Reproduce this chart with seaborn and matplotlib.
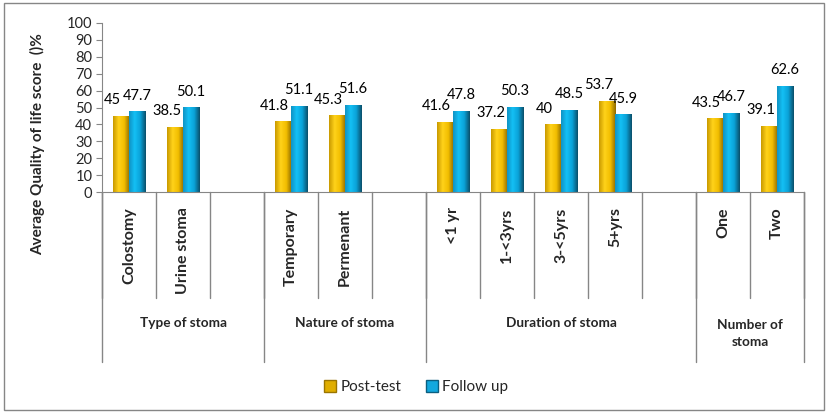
import numpy as np
import pandas as pd
import seaborn as sns
import matplotlib.pyplot as plt
from matplotlib.patches import Rectangle
from matplotlib.colors import LinearSegmentedColormap

# data
subgroups = ["Colostomy", "Urine stoma", "Temporary", "Permenant",
             "<1 yr", "1-<3yrs", "3-<5yrs", "5+yrs", "One", "Two"]
post_test = [45, 38.5, 41.8, 45.3, 41.6, 37.2, 40, 53.7, 43.5, 39.1]
follow_up = [47.7, 50.1, 51.1, 51.6, 47.8, 50.3, 48.5, 45.9, 46.7, 62.6]
groups = ["Type of stoma", "Nature of stoma", "Duration of stoma", "Number of\nstoma"]
# slot order on the axis, empty slots between groups
order = ["Colostomy", "Urine stoma", "gap1", "Temporary", "Permenant", "gap2",
         "<1 yr", "1-<3yrs", "3-<5yrs", "5+yrs", "gap3", "One", "Two"]
series = ["Post-test", "Follow up"]

df = pd.DataFrame({
    "sub": subgroups * 2,
    "value": post_test + follow_up,
    "series": [series[0]] * len(subgroups) + [series[1]] * len(subgroups),
})

sns.set_style("white")
plt.rcParams["font.family"] = ["Lato", "DejaVu Sans"]

gold = "#E0AE00"
blue = "#12A8DE"

fig = plt.figure(figsize=(8.27, 4.16), dpi=100)
ax = fig.add_axes([102 / 827, 1 - 192 / 416, (804 - 102) / 827, (192 - 23) / 416])

sns.barplot(data=df, x="sub", y="value", hue="series", order=order,
            hue_order=series, palette=[gold, blue], width=0.6, dodge=True,
            saturation=1, legend=False, ax=ax, errorbar=None)

# gradient fill like the excel bevel bars
cmaps = {
    0: LinearSegmentedColormap.from_list("g", ["#C99A00", "#FFD21A", "#F2BE00", "#8E6A00"]),
    1: LinearSegmentedColormap.from_list("b", ["#0F93C4", "#14C0F5", "#0AA2D8", "#0B4F6A"]),
}
grad = np.linspace(0, 1, 64).reshape(1, -1)
for i, cont in enumerate(ax.containers):
    for bar in cont:
        h = bar.get_height()
        if not np.isfinite(h):
            continue
        x0 = bar.get_x()
        w = bar.get_width()
        im = ax.imshow(grad, cmap=cmaps[i], aspect="auto",
                       extent=[x0, x0 + w, 0, h], zorder=bar.get_zorder() + 0.1)
        im.set_clip_path(bar)

ax.set_xlim(-0.5, len(order) - 0.5)
ax.set_ylim(0, 100)

# value labels
for i, cont in enumerate(ax.containers):
    dx = -6 if i == 0 else 0
    for bar in cont:
        h = bar.get_height()
        if not np.isfinite(h):
            continue
        ax.annotate(f"{h:g}", (bar.get_x() + bar.get_width() / 2, h),
                    xytext=(dx, 8.5), textcoords="offset points",
                    ha="center", va="baseline", fontsize=10.5, color="black")

# axes styling
for s in ["top", "right"]:
    ax.spines[s].set_visible(False)
for s in ["left", "bottom"]:
    ax.spines[s].set_color("#868686")
ax.set_yticks(range(0, 101, 10))
ax.tick_params(axis="y", direction="out", length=4, color="#868686",
               labelsize=10.5, pad=3, left=True)
ax.set_xticks(range(len(order)))
ax.set_xticklabels([o if not o.startswith("gap") else "" for o in order],
                   rotation=90, fontsize=11.5, fontweight="bold", va="top")
ax.tick_params(axis="x", length=0, pad=11)
ax.set_xlabel("")
ax.set_ylabel("")

trans = ax.get_xaxis_transform()
for k in range(len(order) + 1):
    ax.plot([k - 0.5, k - 0.5], [0, -0.627], transform=trans,
            color="#868686", lw=1, clip_on=False)
group_edges = [-0.5, 2.5, 5.5, 10.5, 12.5]
for e in group_edges:
    ax.plot([e, e], [0, -1.006], transform=trans,
            color="#868686", lw=1, clip_on=False)
for g, a, b in zip(groups, group_edges[:-1], group_edges[1:]):
    ax.text((a + b) / 2, -0.775 if "\n" not in g else -0.835, g, transform=trans,
            ha="center", va="center", fontsize=9.8, fontweight="bold",
            linespacing=1.5)

fig.text(38 / 827, 1 - 144 / 416, "Average Quality of life score  ()%",
         rotation=90, ha="center", va="center", fontsize=11, fontweight="bold")

# legend
handles = [Rectangle((0, 0), 1, 1, facecolor=gold, edgecolor="#9A7500"),
           Rectangle((0, 0), 1, 1, facecolor=blue, edgecolor="#0B5F80")]
fig.legend(handles, series, loc="center", bbox_to_anchor=(416 / 827, 1 - 387 / 416),
           ncol=2, frameon=False, fontsize=11, handlelength=0.8, handleheight=0.8,
           handletextpad=0.3, columnspacing=1.6)

# chart border
fig.patches.append(Rectangle((4 / 827, 1 - 410 / 416), 820 / 827, 407 / 416,
                             transform=fig.transFigure, fill=False,
                             edgecolor="#868686", lw=1))

fig.savefig("out.png", dpi=100)
